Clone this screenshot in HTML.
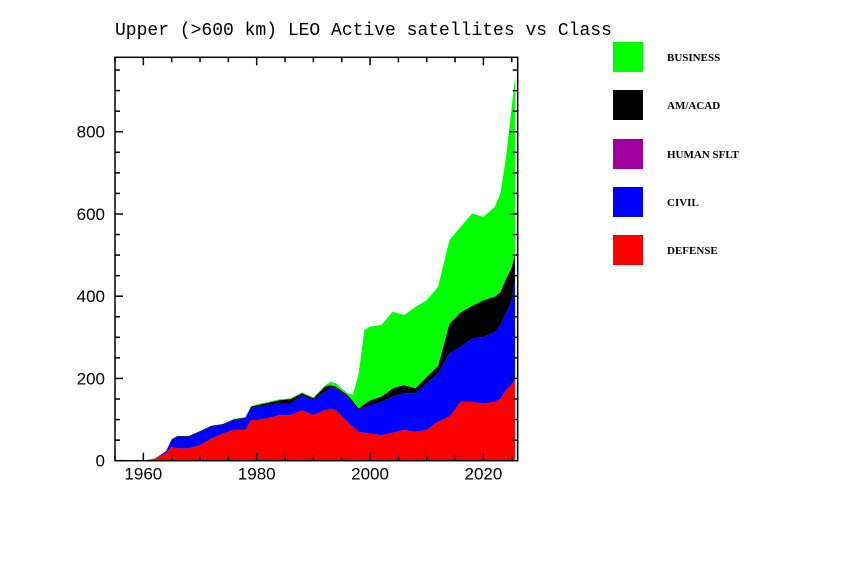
<!DOCTYPE html>
<html><head><meta charset="utf-8"><style>
body{margin:0;background:#fff;}
svg{display:block;}
</style></head><body>
<svg id="chart" width="857" height="576" xmlns="http://www.w3.org/2000/svg">
<text x="115" y="35" font-family="Liberation Mono, monospace" font-size="18" fill="#000">Upper (&gt;600 km) LEO Active satellites vs Class</text>
<g id="areas"></g>
<g id="axes"></g>
<g id="legend"></g>
</svg>
<script>
const years=[1955,1960,1962,1964,1965,1966,1968,1970,1972,1974,1976,1978,1979,1980,1982,1984,1986,1988,1990,1992,1993,1994,1996,1997,1998,1999,2000,2002,2004,2006,2008,2010,2012,2014,2016,2018,2020,2022,2023,2024,2025,2025.6];
const defense=[0,0,5,18,34,30,30,38,54,66,75,75,99,99,103,111,111,123,111,123,125,123,95,82,70,68,66,62,68,75,70,75,95,107,143,143,139,143,150,172,185,196];
const civil=[0,0,0,4,16,28,28,32,29,21,24,28,28,32,32,28,28,37,36,45,51,53,61,58,53,62,69,81,88,89,94,113,117,154,134,154,162,170,180,186,205,243];
const humanSflt=[0,0,0,0,0,0,0,0,0,0,0,0,0,0,0,0,0,0,0,0,0,0,0,0,0,0,0,0,0,0,0,0,0,0,0,0,0,0,0,0,0,0];
const amAcad=[0,0,0,1,2,2,2,2,2,2,2,2,4,4,6,8,11,4,5,12,8,4,4,5,4,8,12,13,20,20,12,16,19,72,84,80,89,86,80,85,80,65];
const business=[0,0,0,0,0,0,0,0,0,0,1,1,1,2,2,2,2,2,2,2,8,8,4,15,85,180,179,174,186,170,198,186,192,203,208,224,203,218,240,296,390,429];
const xTicks=[1960,1980,2000,2020];
const yTicks=[0,200,400,600,800];
const seriesNames=["DEFENSE","CIVIL","HUMAN SFLT","AM/ACAD","BUSINESS"];
const seriesColors=["#ff0000","#0000ff","#a000a0","#000000","#00ff00"];

const L=115,R=517.7,T=57.3,B=460.7,X0=1955,X1=2026.05,Y0=0,Y1=981;
const xs=v=>L+(v-X0)/(X1-X0)*(R-L);
const ys=v=>B-(v-Y0)/(Y1-Y0)*(B-T);
const NS="http://www.w3.org/2000/svg";
const mk=(t,a,p)=>{const e=document.createElementNS(NS,t);for(const k in a)e.setAttribute(k,a[k]);p.appendChild(e);return e;};

const series=[defense,civil,humanSflt,amAcad,business];
const areas=document.getElementById('areas');
let base=years.map(()=>0);
const slugs=["defense","civil","human-sflt","am-acad","business"];
series.forEach((s,i)=>{
  const top=base.map((b,j)=>b+s[j]);
  let pts=years.map((y,j)=>xs(y).toFixed(1)+","+ys(top[j]).toFixed(1));
  for(let j=years.length-1;j>=0;j--)pts.push(xs(years[j]).toFixed(1)+","+ys(base[j]).toFixed(1));
  const p=mk('polygon',{points:pts.join(" "),fill:seriesColors[i]},areas);
  
  
  base=top;
});

const ax=document.getElementById('axes');
const fr=mk('rect',{x:L,y:T,width:R-L,height:B-T,fill:"none",stroke:"#000","stroke-width":1.5},ax);


for(let v=0;v<=Y1;v+=50){
  const len=v%200===0?8:5;const y=ys(v);
  mk('line',{x1:L,x2:L+len,y1:y,y2:y,stroke:"#000","stroke-width":1.5},ax);
  mk('line',{x1:R,x2:R-len,y1:y,y2:y,stroke:"#000","stroke-width":1.5},ax);
}
for(let v=1955;v<=2025;v+=5){
  const len=v%20===0?8:5;const x=xs(v);
  mk('line',{x1:x,x2:x,y1:B,y2:B-len,stroke:"#000","stroke-width":1.5},ax);
  mk('line',{x1:x,x2:x,y1:T,y2:T+len,stroke:"#000","stroke-width":1.5},ax);
}
yTicks.forEach(v=>{
  const t=mk('text',{x:L-10,y:ys(v)+6,"text-anchor":"end","font-family":"Liberation Sans, sans-serif","font-size":17,fill:"#000"},ax);
  t.textContent=v;
  
  
});
xTicks.forEach(v=>{
  const t=mk('text',{x:xs(v),y:B+19,"text-anchor":"middle","font-family":"Liberation Sans, sans-serif","font-size":17,fill:"#000"},ax);
  t.textContent=v;
  
  
});

const lg=document.getElementById('legend');
const order=[4,3,2,1,0];
const ly=[42,90,139,187,235];
order.forEach((si,k)=>{
  const r=mk('rect',{x:613,y:ly[k],width:30,height:30,fill:seriesColors[si]},lg);
  
  
  const t=mk('text',{x:667,y:ly[k]+19,"font-family":"Liberation Serif, serif","font-size":11,"font-weight":"bold",fill:"#000"},lg);
  t.textContent=seriesNames[si];
  
  
});
</script>
</body></html>
